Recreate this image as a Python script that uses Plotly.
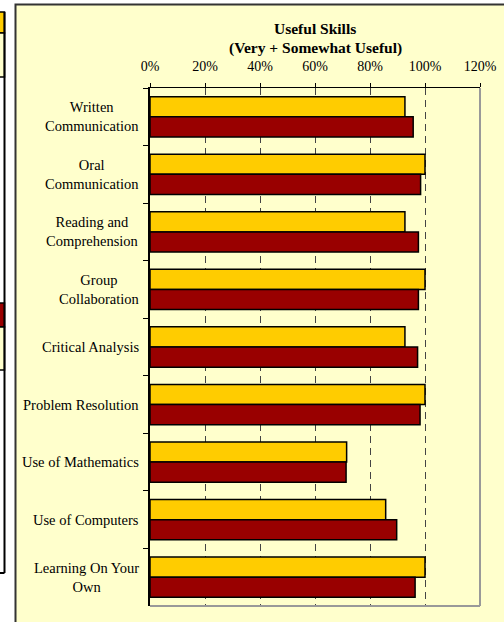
import plotly.graph_objects as go

categories = ["Written<br>Communication", "Oral<br>Communication", "Reading and<br>Comprehension",
              "Group<br>Collaboration", "Critical Analysis", "Problem Resolution",
              "Use of Mathematics", "Use of Computers", "Learning On Your<br>Own"]
series_a = [0.927, 1.00, 0.927, 1.00, 0.927, 1.00, 0.715, 0.857, 1.00]   # yellow
series_b = [0.957, 0.984, 0.976, 0.976, 0.973, 0.982, 0.713, 0.897, 0.964]  # dark red
tick_vals = [0, 0.2, 0.4, 0.6, 0.8, 1.0, 1.2]
tick_text = ["0%", "20%", "40%", "60%", "80%", "100%", "120%"]
title_lines = ["Useful Skills", "(Very + Somewhat Useful)"]

W, H = 504, 622
L, R, T, B = 150, 480, 88, 606
FONT = "Liberation Serif"


def px(x):
    return (x - L) / (R - L)


def py(y):
    return (B - y) / (B - T)


fig = go.Figure()
fig.add_trace(go.Bar(y=categories, x=series_a, orientation="h",
                     marker=dict(color="#FFCC00", line=dict(color="#000000", width=1.5)),
                     name="A"))
fig.add_trace(go.Bar(y=categories, x=series_b, orientation="h",
                     marker=dict(color="#990000", line=dict(color="#000000", width=1.5)),
                     name="B"))

shapes = []
# panel
shapes.append(dict(type="rect", xref="paper", yref="paper", layer="below",
                   x0=px(15.5), x1=px(W + 10), y0=py(H + 10), y1=py(4.5),
                   fillcolor="#FFFFCC", line=dict(color="#333333", width=2)))
# left strip decorations (cropped neighbouring element)
shapes.append(dict(type="rect", xref="paper", yref="paper", layer="below",
                   x0=px(-5), x1=px(4.5), y0=py(33), y1=py(12),
                   fillcolor="#FFCC00", line=dict(color="#000000", width=1.5)))
shapes.append(dict(type="rect", xref="paper", yref="paper", layer="below",
                   x0=px(-5), x1=px(4.5), y0=py(77), y1=py(33),
                   fillcolor="#FFFFCC", line=dict(color="#000000", width=1.5)))
shapes.append(dict(type="rect", xref="paper", yref="paper", layer="below",
                   x0=px(-5), x1=px(4.5), y0=py(327), y1=py(303),
                   fillcolor="#990000", line=dict(color="#000000", width=1.5)))
shapes.append(dict(type="rect", xref="paper", yref="paper", layer="below",
                   x0=px(-5), x1=px(4.5), y0=py(370), y1=py(327),
                   fillcolor="#FFFFCC", line=dict(color="#000000", width=1.5)))
shapes.append(dict(type="line", xref="paper", yref="paper", layer="below",
                   x0=px(4.5), x1=px(4.5), y0=py(573), y1=py(12),
                   line=dict(color="#000000", width=2)))
shapes.append(dict(type="line", xref="paper", yref="paper", layer="below",
                   x0=px(-2), x1=px(4.5), y0=py(573), y1=py(573),
                   line=dict(color="#000000", width=2)))
# right and bottom plot borders (gray)
shapes.append(dict(type="line", xref="paper", yref="paper", layer="above",
                   x0=1, x1=1, y0=0, y1=1, line=dict(color="#999999", width=2)))
shapes.append(dict(type="line", xref="paper", yref="paper", layer="above",
                   x0=0, x1=1, y0=0, y1=0, line=dict(color="#999999", width=2)))

annotations = []
annotations.append(dict(text="<b>%s</b>" % title_lines[0], xref="paper", yref="paper",
                        x=0.5, y=py(28), xanchor="center", yanchor="middle", showarrow=False,
                        font=dict(family=FONT, size=15.5, color="#000000")))
annotations.append(dict(text="<b>%s</b>" % title_lines[1], xref="paper", yref="paper",
                        x=0.5, y=py(48), xanchor="center", yanchor="middle", showarrow=False,
                        font=dict(family=FONT, size=15.5, color="#000000")))
for c in categories:
    annotations.append(dict(text=c, xref="paper", yref="y", x=0, y=c, xshift=-9,
                            xanchor="right", yanchor="middle", align="center", showarrow=False,
                            font=dict(family=FONT, size=14.5, color="#000000")))

fig.update_layout(
    width=W, height=H,
    margin=dict(l=L, r=W - R, t=T, b=H - B, pad=0, autoexpand=False),
    paper_bgcolor="#FFFFFF", plot_bgcolor="rgba(0,0,0,0)",
    barmode="group", bargap=0.3, bargroupgap=0,
    showlegend=False,
    shapes=shapes, annotations=annotations,
    font=dict(family=FONT, size=13, color="#000000"),
)
fig.update_xaxes(range=[0, 1.2], side="top", tickvals=tick_vals, ticktext=tick_text,
                 automargin=False,
                 showline=True, linecolor="#000000", linewidth=1.2,
                 ticks="outside", ticklen=4, tickcolor="#000000", tickwidth=1,
                 ticklabelstandoff=6,
                 showgrid=True, gridcolor="#444444", gridwidth=1, griddash="7px,5px",
                 zeroline=False, tickfont=dict(family=FONT, size=14, color="#000000"))
fig.update_yaxes(autorange="reversed", showticklabels=False, automargin=False,
                 showline=True, linecolor="#000000", linewidth=1.5,
                 ticks="outside", ticklen=5, tickcolor="#000000", tickson="boundaries",
                 showgrid=False, zeroline=False)

fig.write_html("out.html", config={"displayModeBar": False},
               post_script="document.body.style.margin='0';document.body.style.overflow='hidden';")
